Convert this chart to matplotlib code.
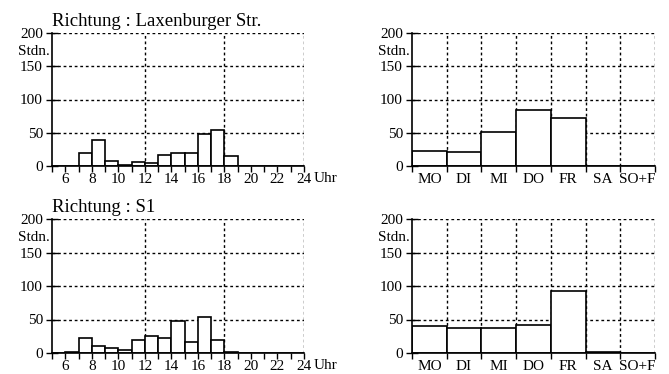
import matplotlib
matplotlib.use("Agg")
import matplotlib.pyplot as plt
import numpy as np

plt.rcParams['font.family'] = ['Liberation Serif', 'DejaVu Serif']

hours = list(range(5, 24))
lax_hour = [0, 0, 20, 39, 8, 2, 6, 4, 16, 19, 19, 48, 54, 15, 0, 0, 0, 0, 0]
s1_hour = [0, 1, 22, 10, 7, 5, 19, 25, 23, 48, 16, 54, 19, 1, 0.5, 0.5, 0.5, 0.5, 0.5]
days = ['MO', 'DI', 'MI', 'DO', 'FR', 'SA', 'SO+F']
lax_day = [22, 21, 51, 84, 72, 0, 0]
s1_day = [40, 38, 37, 42, 93, 1, 0.5]
titles = ['Richtung : Laxenburger Str.', 'Richtung : S1']
yticks = [0, 50, 100, 150, 200]
hour_labels = [6, 8, 10, 12, 14, 16, 18, 20, 22, 24]

W, H = 669, 374
fig = plt.figure(figsize=(W / 100, H / 100), dpi=100)
FS = 11

def style(ax):
    ax.set_ylim(0, 200)
    ax.set_yticks(yticks)
    ax.grid(False)
    for s in ['top', 'right']:
        ax.spines[s].set_visible(False)
    ax.spines['left'].set_linewidth(1.2)
    ax.spines['bottom'].set_linewidth(1.2)
    for y in yticks[1:]:
        ax.axhline(y, color='black', lw=1.0, ls=(0, (2, 2)), zorder=0)
    ax.tick_params(axis='x', direction='out', length=4, width=1.0, labelsize=FS, pad=1)
    ax.tick_params(axis='y', direction='inout', length=9, width=1.0, labelsize=FS, pad=2)
    ax.text(-0.01, 0.86, 'Stdn.', transform=ax.transAxes, ha='right', va='center', fontsize=FS)
    ax.set_facecolor('none')

rows = [(33, 166), (219, 353)]
hour_data = [lax_hour, s1_hour]
day_data = [lax_day, s1_day]
for r, (top, bot) in enumerate(rows):
    # left hourly axes
    x0, x1 = 52, 304
    ax = fig.add_axes([x0 / W, 1 - bot / H, (x1 - x0) / W, (bot - top) / H])
    style(ax)
    ax.set_xlim(5, 24)
    ax.bar(hours, hour_data[r], width=1.0, align='edge', facecolor='white', edgecolor='black', lw=1.2, zorder=2)
    for xv in [12, 18, 24]:
        ax.axvline(xv, color='black', lw=1.0, ls=(0, (2, 2)), zorder=0)
    ax.set_xticks(range(5, 25), minor=False)
    ax.set_xticklabels([str(h) if h in hour_labels else '' for h in range(5, 25)])
    ax.annotate('Uhr', xy=(1.0, 0.0), xycoords='axes fraction', xytext=(7, -4),
                textcoords='offset points', ha='left', va='top', fontsize=FS)
    ax.text(0.0, 1.02, titles[r], transform=ax.transAxes, ha='left', va='bottom', fontsize=13.5)

    # right daily axes
    x0, x1 = 412, 655
    ax2 = fig.add_axes([x0 / W, 1 - bot / H, (x1 - x0) / W, (bot - top) / H])
    style(ax2)
    xpos = np.arange(len(days))
    ax2.set_xlim(0, len(days))
    ax2.bar(xpos, day_data[r], width=1.0, align='edge', facecolor='white', edgecolor='black', lw=1.2, zorder=2)
    for xv in range(1, len(days) + 1):
        ax2.axvline(xv, color='black', lw=1.0, ls=(0, (2, 2)), zorder=0)
    ax2.set_xticks(range(0, len(days) + 1))
    ax2.set_xticklabels([])
    ax2.set_xticks(xpos + 0.5, minor=True)
    ax2.set_xticklabels(days, minor=True)
    ax2.tick_params(axis='x', which='minor', length=0, labelsize=FS, pad=5)

fig.savefig('out.png', dpi=100)
